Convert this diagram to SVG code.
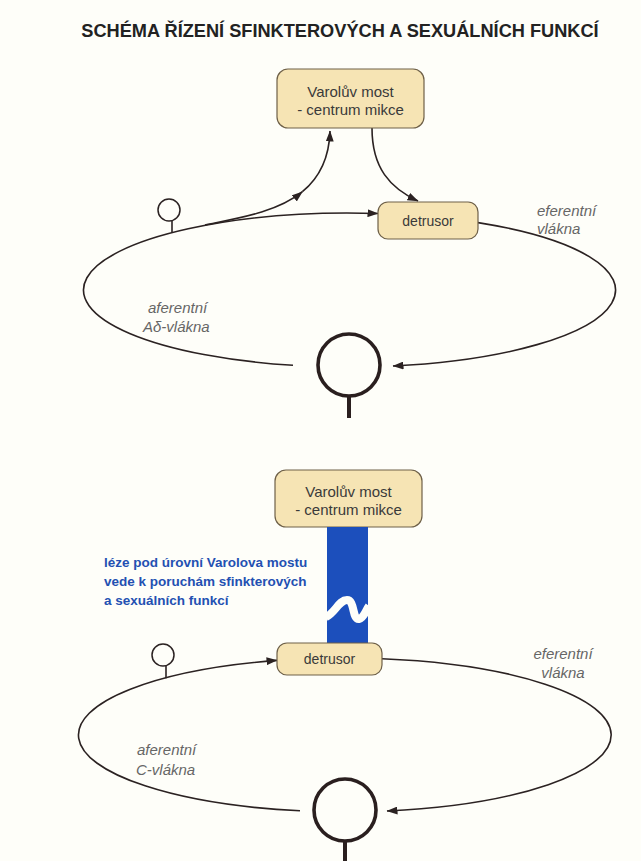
<svg xmlns="http://www.w3.org/2000/svg" width="641" height="861" viewBox="0 0 641 861">
<defs>
<marker id="arr" markerUnits="userSpaceOnUse" markerWidth="11" markerHeight="8" refX="10.5" refY="4" orient="auto">
<path d="M0,0 L11,4 L0,8 z" fill="#2b2222"/>
</marker>
<style>
.bg{fill:#fefef9}
.box{fill:#f6e4b4;stroke:#6e6048;stroke-width:1.2}
.bt{font-family:"Liberation Sans",Arial,sans-serif;font-size:15px;fill:#3a3a3a;text-anchor:middle}
.dt{font-family:"Liberation Sans",Arial,sans-serif;font-size:14px;fill:#3a3a3a;text-anchor:middle}
.lbl{font-family:"Liberation Sans",Arial,sans-serif;font-size:15px;font-style:italic;fill:#666}
.ln{fill:none;stroke:#2b2222;stroke-width:1.6}
.ar{fill:none;stroke:#2b2222;stroke-width:1.6;marker-end:url(#arr)}
.sc{fill:none;stroke:#2b2222;stroke-width:1.5}
.bc{fill:none;stroke:#2a1f1f;stroke-width:3.6}
.stem{stroke:#2a1f1f;stroke-width:4}
.blue{font-family:"Liberation Sans",Arial,sans-serif;font-size:13.5px;font-weight:bold;fill:#2350b2}
</style>
</defs>
<rect class="bg" x="0" y="0" width="641" height="861"/>
<text id="title" x="340" y="37" text-anchor="middle" font-family="'Liberation Sans',Arial,sans-serif" font-size="18.2" font-weight="bold" fill="#222">SCHÉMA ŘÍZENÍ SFINKTEROVÝCH A SEXUÁLNÍCH FUNKCÍ</text>

<g id="connectors">
<!-- top loop -->
<path class="ar" d="M293 365.3 A266 77 0 0 1 378 213.5"/>
<path class="ar" d="M478 222.6 A266 77 0 0 1 393 366"/>
<path class="ar" d="M205 225 C241 217.8 278.1 211.6 302.4 191.7"/>
<path class="ar" d="M302.4 191.7 C318.6 178.4 329.2 159.4 330 131"/>
<path class="ar" d="M372 128 C372 168 390 188 418 201"/>
<line class="ln" x1="172" y1="221" x2="172" y2="232.5"/>
<!-- bottom loop -->
<path class="ar" d="M300 810.8 A266 77 0 0 1 277 660.4"/>
<path class="ar" d="M382 658.7 A266 77 0 0 1 387 811"/>
<line class="ln" x1="166" y1="666" x2="166" y2="678.3"/>
</g>

<g id="top-pons">
<rect class="box" x="277" y="69" width="147" height="59" rx="11"/>
<text class="bt" x="350.5" y="97">Varolův most</text>
<text class="bt" x="350.5" y="115">- centrum mikce</text>
</g>
<g id="top-detrusor">
<rect class="box" x="378" y="202" width="100" height="37" rx="10"/>
<text class="dt" x="428" y="226">detrusor</text>
</g>
<g id="top-receptor">
<circle class="sc" cx="169" cy="210" r="11"/>
</g>
<g id="top-ganglion">
<circle class="bc" cx="349" cy="365" r="31"/>
<line class="stem" x1="349" y1="396" x2="349" y2="418"/>
</g>
<g id="top-labels">
<text class="lbl" x="537" y="216">eferentní</text>
<text class="lbl" x="537" y="234">vlákna</text>
<text class="lbl" x="148" y="313">aferentní</text>
<text class="lbl" x="143" y="332">Aδ-vlákna</text>
</g>

<g id="bottom-pons">
<rect class="box" x="275" y="470" width="147" height="57" rx="11"/>
<text class="bt" x="348.5" y="497">Varolův most</text>
<text class="bt" x="348.5" y="515">- centrum mikce</text>
</g>
<g id="lesion">
<rect x="327" y="527" width="41" height="116" fill="#1c4fbc"/>
<path d="M326 617 C335 613 339 600 347 600 C355 600 352 620 359 619 C364 618 366 610 369 606" fill="none" stroke="#fefef9" stroke-width="8"/>
<text class="blue" x="104" y="567">léze pod úrovní Varolova mostu</text>
<text class="blue" x="104" y="586">vede k poruchám sfinkterových</text>
<text class="blue" x="104" y="605">a sexuálních funkcí</text>
</g>
<g id="bottom-detrusor">
<rect class="box" x="277" y="643" width="105" height="32" rx="10"/>
<text class="dt" x="329.5" y="664">detrusor</text>
</g>
<g id="bottom-receptor">
<circle class="sc" cx="163" cy="655" r="11"/>
</g>
<g id="bottom-ganglion">
<circle class="bc" cx="345" cy="810" r="31"/>
<line class="stem" x1="345" y1="841" x2="345" y2="861"/>
</g>
<g id="bottom-labels">
<text class="lbl" x="563" y="659" text-anchor="middle">eferentní</text>
<text class="lbl" x="563" y="678" text-anchor="middle">vlákna</text>
<text class="lbl" x="137" y="755">aferentní</text>
<text class="lbl" x="136" y="775">C-vlákna</text>
</g>
</svg>
